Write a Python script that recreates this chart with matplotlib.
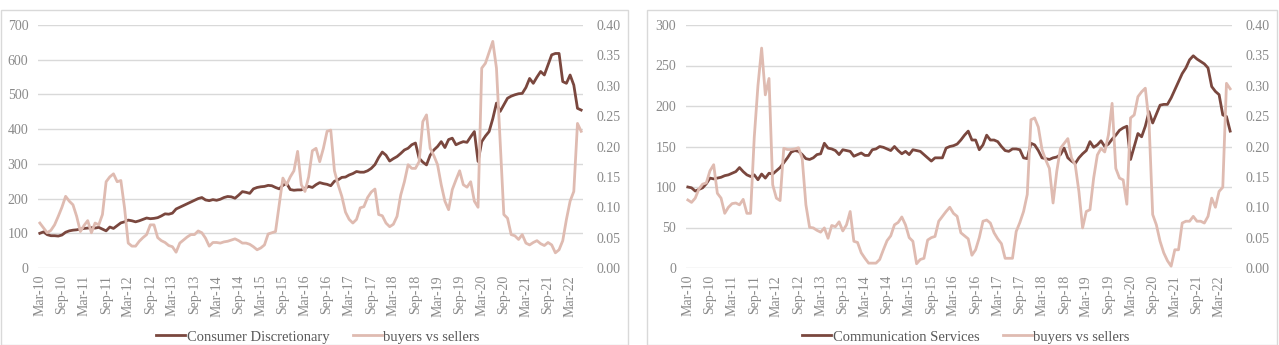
import numpy as np
import matplotlib.pyplot as plt
from matplotlib.patches import Rectangle

plt.rcParams['font.family'] = ['Liberation Serif', 'DejaVu Serif']

# monthly, Mar-10 .. Jun-22
tick_labels = [ 'Mar-10', 'Sep-10', 'Mar-11', 'Sep-11', 'Mar-12', 'Sep-12',
                'Mar-13', 'Sep-13', 'Mar-14', 'Sep-14', 'Mar-15', 'Sep-15',
                'Mar-16', 'Sep-16', 'Mar-17', 'Sep-17', 'Mar-18', 'Sep-18',
                'Mar-19', 'Sep-19', 'Mar-20', 'Sep-20', 'Mar-21', 'Sep-21',
                'Mar-22' ]

consumer_disc = [
    100, 104,  96,  93,  93,  92,  95, 103, 107, 109, 110, 112, 114, 115, 116, 115,
    117, 112, 107, 118, 114, 122, 130, 133, 138, 136, 133, 136, 140, 144, 142, 143,
    145, 150, 156, 155, 158, 170, 175, 180, 185, 190, 195, 200, 203, 196, 194, 197,
    195, 198, 203, 206, 205, 201, 210, 220, 218, 215, 228, 232, 234, 235, 238, 237,
    232, 228, 238, 244, 226, 224, 225, 225, 230, 235, 232, 240, 246, 243, 241, 237,
    250, 254, 261, 262, 268, 272, 278, 276, 276, 280, 287, 298, 318, 334, 325, 308,
    315, 321, 330, 340, 345, 355, 360, 316, 305, 297, 325, 340, 350, 364, 347, 370,
    374, 355, 360, 364, 362, 378, 393, 307, 364, 380, 393, 430, 475, 451, 470, 489,
    495, 499, 502, 503, 520, 546, 532, 550, 566, 556, 585, 614, 618, 618, 537, 532,
    556, 527, 460, 455 ]

bvs_disc = [
    0.074, 0.066, 0.058, 0.062, 0.071, 0.085, 0.100, 0.118, 0.110, 0.104, 0.085, 0.060,
    0.070, 0.078, 0.058, 0.074, 0.071, 0.088, 0.142, 0.150, 0.155, 0.142, 0.144, 0.099,
    0.041, 0.036, 0.036, 0.044, 0.050, 0.055, 0.071, 0.071, 0.050, 0.045, 0.042, 0.037,
    0.035, 0.026, 0.041, 0.046, 0.051, 0.055, 0.055, 0.061, 0.058, 0.049, 0.036, 0.042,
    0.042, 0.041, 0.043, 0.044, 0.046, 0.048, 0.045, 0.041, 0.041, 0.039, 0.035, 0.030,
    0.033, 0.038, 0.056, 0.058, 0.060, 0.104, 0.148, 0.137, 0.150, 0.160, 0.192, 0.137,
    0.126, 0.150, 0.193, 0.197, 0.175, 0.197, 0.225, 0.227, 0.160, 0.137, 0.118, 0.092,
    0.080, 0.074, 0.080, 0.099, 0.101, 0.116, 0.125, 0.130, 0.088, 0.086, 0.074, 0.068,
    0.072, 0.085, 0.120, 0.142, 0.170, 0.164, 0.164, 0.175, 0.241, 0.252, 0.197, 0.185,
    0.170, 0.137, 0.110, 0.096, 0.129, 0.145, 0.160, 0.137, 0.133, 0.142, 0.110, 0.100,
    0.329, 0.337, 0.355, 0.373, 0.329, 0.208, 0.088, 0.082, 0.055, 0.053, 0.047, 0.055,
    0.041, 0.038, 0.042, 0.045, 0.040, 0.037, 0.042, 0.038, 0.025, 0.030, 0.045, 0.080,
    0.110, 0.126, 0.238, 0.225 ]

comm_serv = [
    100,  99,  95,  97,  99, 104, 111, 110, 111, 112, 114, 115, 117, 119, 124, 119,
    115, 113, 115, 109, 116, 111, 117, 116, 120, 124, 130, 136, 143, 145, 144, 140,
    135, 134, 136, 140, 141, 154, 148, 147, 145, 140, 146, 145, 144, 138, 140, 142,
    139, 139, 146, 147, 150, 149, 147, 145, 150, 145, 141, 144, 140, 146, 145, 144,
    140, 136, 132, 136, 136, 136, 148, 150, 151, 153, 158, 164, 169, 158, 158, 146,
    152, 164, 158, 158, 156, 150, 145, 144, 147, 147, 146, 136, 135, 154, 152, 145,
    136, 135, 134, 136, 137, 140, 148, 136, 132, 129, 136, 141, 145, 156, 149, 152,
    157, 150, 153, 159, 164, 170, 173, 175, 134, 150, 166, 162, 175, 193, 179, 190,
    201, 202, 202, 210, 220, 230, 240, 247, 257, 262, 258, 255, 252, 247, 224, 218,
    214, 189, 187, 169 ]

bvs_comm = [
    0.112, 0.108, 0.115, 0.130, 0.138, 0.140, 0.160, 0.170, 0.123, 0.115, 0.090, 0.100,
    0.106, 0.107, 0.104, 0.113, 0.090, 0.090, 0.215, 0.300, 0.362, 0.285, 0.312, 0.137,
    0.115, 0.111, 0.197, 0.195, 0.195, 0.196, 0.198, 0.180, 0.104, 0.067, 0.066, 0.062,
    0.059, 0.066, 0.049, 0.070, 0.068, 0.076, 0.061, 0.071, 0.093, 0.044, 0.042, 0.025,
    0.016, 0.008, 0.008, 0.008, 0.014, 0.030, 0.045, 0.053, 0.071, 0.075, 0.084, 0.071,
    0.050, 0.044, 0.007, 0.014, 0.016, 0.046, 0.050, 0.052, 0.077, 0.085, 0.093, 0.100,
    0.090, 0.085, 0.058, 0.053, 0.048, 0.021, 0.030, 0.050, 0.077, 0.079, 0.074, 0.058,
    0.048, 0.040, 0.016, 0.016, 0.016, 0.060, 0.075, 0.093, 0.121, 0.244, 0.247, 0.232,
    0.195, 0.178, 0.164, 0.107, 0.159, 0.197, 0.205, 0.213, 0.181, 0.170, 0.126, 0.066,
    0.093, 0.096, 0.148, 0.186, 0.197, 0.191, 0.219, 0.271, 0.164, 0.148, 0.145, 0.105,
    0.247, 0.252, 0.282, 0.290, 0.296, 0.241, 0.088, 0.071, 0.044, 0.025, 0.012, 0.003,
    0.030, 0.030, 0.074, 0.077, 0.077, 0.085, 0.077, 0.077, 0.074, 0.085, 0.115, 0.100,
    0.126, 0.133, 0.304, 0.295 ]

dark  = '#7a473e'
light = '#dfbbb1'
gridc = '#d9d9d9'
txtc  = '#8a8a8a'

W, H = 1279, 345
fig = plt.figure( figsize = ( W / 100, H / 100 ), dpi = 100 )

# panel frames
for x0, x1 in [ ( 1, 628 ), ( 647, 1277 ) ]:
    fig.patches.append( Rectangle( ( x0 / W, 0.0 ), ( x1 - x0 ) / W, 1 - 10 / H,
                        transform = fig.transFigure, fill = False,
                        ec = gridc, lw = 1.0 ) )

panels = [ ( 38, 583, consumer_disc, bvs_disc, 700, 100,
             'Consumer Discretionary', 318 ),
           ( 686, 1232, comm_serv, bvs_comm, 300, 50,
             'Communication Services', 966 ) ]

for x0, x1, main, bvs, ymax, ystep, name, lx in panels:

    ax = fig.add_axes( [ x0 / W, 77 / H, ( x1 - x0 ) / W, 243 / H ] )
    ax2 = ax.twinx()

    t = np.arange( len( main ) )
    l1, = ax.plot( t, main, c = dark, lw = 2.0, solid_joinstyle = 'round' )
    l2, = ax2.plot( t, bvs, c = light, lw = 2.0, solid_joinstyle = 'round' )

    ax.set_xlim( -0.5, len( main ) - 0.5 )
    ax.set_ylim( 0, ymax )
    ax.set_yticks( np.arange( 0, ymax + 1, ystep ) )
    ax2.set_ylim( 0, 0.40 )
    ax2.set_yticks( np.arange( 0, 0.401, 0.05 ) )
    ax2.set_yticklabels( [ '{:.2f}'.format( v ) for v in np.arange( 0, 0.401, 0.05 ) ] )

    ax.set_xticks( np.arange( 0, len( tick_labels ) * 6, 6 ) )
    ax.set_xticklabels( tick_labels, rotation = 90 )

    ax.grid( axis = 'y', color = gridc, lw = 1.0 )
    ax.set_axisbelow( True )
    for a in ( ax, ax2 ):
        for s in a.spines.values():
            s.set_visible( False )
    ax.tick_params( axis = 'y', length = 0, pad = 7, labelsize = 10, labelcolor = txtc )
    ax.tick_params( axis = 'x', length = 0, pad = 5, labelsize = 10, labelcolor = txtc )
    ax2.tick_params( length = 0, pad = 10, labelsize = 10, labelcolor = txtc )

    fig.legend( [ l1, l2 ], [ name, 'buyers vs sellers' ], loc = 'center',
                bbox_to_anchor = ( lx / W, 1 - 337 / H ), ncol = 2, frameon = False,
                fontsize = 10.5, labelcolor = '#595959', handlelength = 2.0,
                handletextpad = 0.1, columnspacing = 1.6 )

plt.savefig( 'out.png', dpi = 100 )
plt.close()
